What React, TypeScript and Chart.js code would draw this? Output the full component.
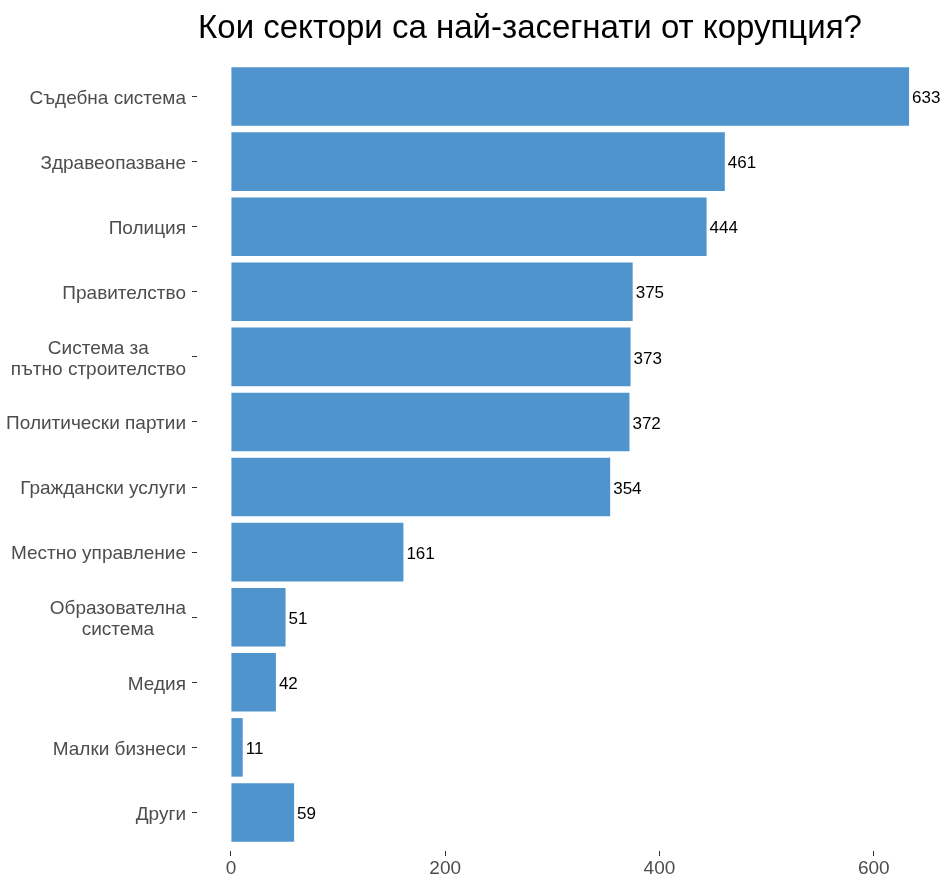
import React, { useEffect, useRef } from "react";
import { Chart, registerables } from "chart.js";

Chart.register(...registerables);

const categories: (string | string[])[] = [
  "Съдебна система",
  "Здравеопазване",
  "Полиция",
  "Правителство",
  ["Система за", "пътно строителство"],
  "Политически партии",
  "Граждански услуги",
  "Местно управление",
  ["Образователна", "система"],
  "Медия",
  "Малки бизнеси",
  "Други",
];
const values = [633, 461, 444, 375, 373, 372, 354, 161, 51, 42, 11, 59];
const xTicks = [0, 200, 400, 600];
const title = "Кои сектори са най-засегнати от корупция?";

const FONT = "'Liberation Sans', Arial, sans-serif";

export default function App() {
  const ref = useRef<HTMLCanvasElement | null>(null);
  useEffect(() => {
    document.body.style.margin = "0";
    const canvas = ref.current;
    if (!canvas) return;

    const valueLabels = {
      id: "valueLabels",
      afterDatasetsDraw(chart: any) {
        const ctx = chart.ctx;
        const meta = chart.getDatasetMeta(0);
        ctx.save();
        ctx.fillStyle = "#000";
        ctx.font = `17px ${FONT}`;
        ctx.textAlign = "left";
        ctx.textBaseline = "middle";
        meta.data.forEach((el: any, i: number) => {
          ctx.fillText(String(values[i]), el.x + 3, el.y + 2);
        });
        ctx.restore();
      },
    };
    const yLabels = {
      id: "yLabels",
      afterDraw(chart: any) {
        const ctx = chart.ctx;
        const yScale = chart.scales.y;
        const right = chart.chartArea.left - 11;
        const lh = 21;
        ctx.save();
        ctx.fillStyle = "#4D4D4D";
        ctx.font = `19px ${FONT}`;
        ctx.textBaseline = "middle";
        categories.forEach((lab, i) => {
          const y = yScale.getPixelForValue(i) + 2;
          if (Array.isArray(lab)) {
            const w = Math.max(...lab.map((l) => ctx.measureText(l).width));
            const cx = right - w / 2;
            ctx.textAlign = "center";
            lab.forEach((l, j) => {
              ctx.fillText(l, cx, y + (j - (lab.length - 1) / 2) * lh);
            });
          } else {
            ctx.textAlign = "right";
            ctx.fillText(lab, right, y);
          }
        });
        ctx.restore();
      },
    };
    const titlePlugin = {
      id: "titlePlugin",
      afterDraw(chart: any) {
        const ctx = chart.ctx;
        ctx.save();
        ctx.fillStyle = "#000";
        ctx.font = `33px ${FONT}`;
        ctx.textAlign = "center";
        ctx.textBaseline = "middle";
        ctx.fillText(title, 530, 29);
        ctx.restore();
      },
    };

    const chart = new Chart(canvas, {
      type: "bar",
      data: {
        labels: categories,
        datasets: [
          {
            data: values,
            backgroundColor: "#4F94CD",
            borderWidth: 0,
            categoryPercentage: 0.9,
            barPercentage: 1,
          },
        ],
      },
      options: {
        indexAxis: "y",
        animation: false,
        responsive: false,
        maintainAspectRatio: false,
        layout: { padding: { top: 64, right: 3, bottom: 0, left: 0 } },
        plugins: {
          legend: { display: false },
          tooltip: { enabled: false },
          title: { display: false },
        },
        scales: {
          x: {
            min: -31.65,
            max: 664.65,
            afterBuildTicks(scale: any) {
              scale.ticks = xTicks.map((v) => ({ value: v }));
            },
            afterFit(scale: any) {
              scale.height = 36;
            },
            border: { display: false },
            grid: {
              drawOnChartArea: false,
              drawTicks: true,
              tickLength: 11,
              tickBorderDash: [0, 6, 5, 100],
              color: "#333333",
              lineWidth: 1,
            },
            ticks: {
              color: "#4D4D4D",
              font: { family: FONT, size: 19 },
              padding: 1,
              maxRotation: 0,
            },
          },
          y: {
            afterFit(scale: any) {
              scale.width = 197;
            },
            border: { display: false },
            grid: {
              offset: false,
              drawOnChartArea: false,
              drawTicks: true,
              tickLength: 5,
              color: "#333333",
              lineWidth: 1,
            },
            ticks: {
              display: false,
              autoSkip: false,
            },
          },
        },
      },
      plugins: [valueLabels, yLabels, titlePlugin],
    } as any);
    return () => chart.destroy();
  }, []);

  return (
    <div style={{ width: 946, height: 881, background: "#fff" }}>
      <canvas ref={ref} width={946} height={881} style={{ display: "block" }} />
    </div>
  );
}
